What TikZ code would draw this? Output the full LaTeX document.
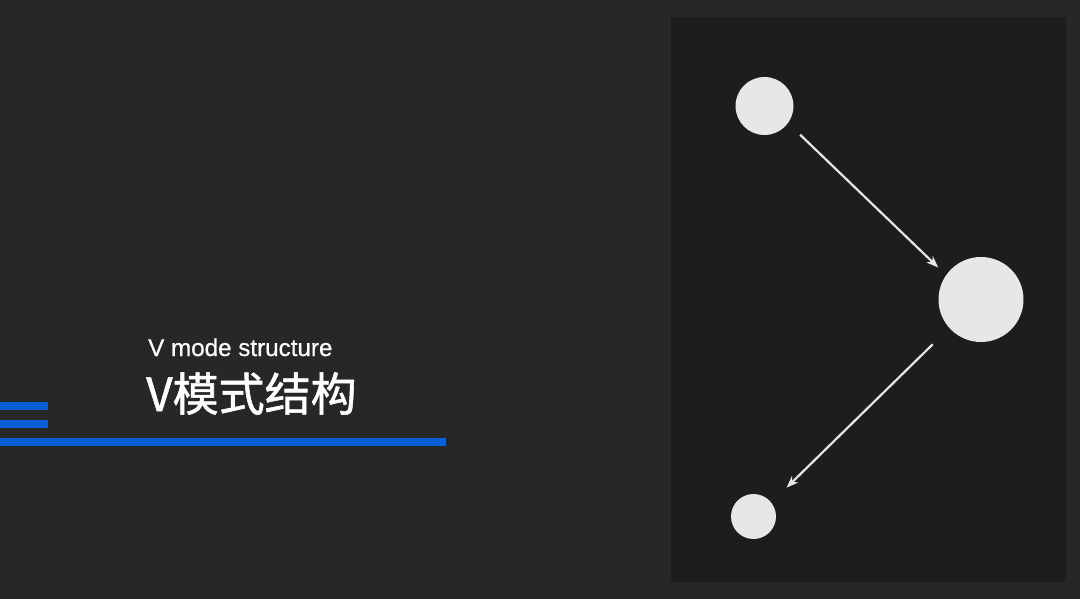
\documentclass[tikz,border=0pt]{standalone}
\usepackage{fontspec}
\setmainfont{Liberation Sans}
\newfontfamily\entitle[FakeBold=0.6]{Liberation Sans}
\newfontfamily\cjk[FakeBold=1.2]{Noto Sans CJK SC}
\usetikzlibrary{arrows.meta}
\definecolor{bgdark}{HTML}{272727}
\definecolor{panel}{HTML}{1D1D1D}
\definecolor{dot}{HTML}{E6E7E6}
\definecolor{barblue}{HTML}{0A5FD7}
\begin{document}
\begin{tikzpicture}[x=1pt,y=-1pt,
  dotnode/.style = {circle, fill=dot, inner sep=0pt},
  link/.style = {draw=dot, line width=2.2pt, -{Stealth[length=12pt,width=9pt]}},
  bar/.style = {fill=barblue}]

\fill[bgdark] (0,0) rectangle (1080,599);
\useasboundingbox (0,0) rectangle (1080,599);
\fill[panel] (671,17) rectangle (1066,582);

% title
\node[anchor=base west, inner sep=0pt, text=white, font=\entitle\fontsize{24.2}{29}\selectfont] (en) at (148,356) {V mode structure};
\node[anchor=base west, inner sep=0pt, text=white, font=\cjk\fontsize{46}{54}\selectfont] (zh) at (146,411) {V模式结构};
\fill[bar] (0,402.3) rectangle (47.7,410);
\fill[bar] (0,420) rectangle (47.7,427.7);
\fill[bar] (0,437.7) rectangle (446,445.7);

% V shape
\node[dotnode, minimum size=58pt] (1) at (764.5,106) {};
\node[dotnode, minimum size=85pt] (2) at (981,299.5) {};
\node[dotnode, minimum size=45pt] (3) at (753.5,516.5) {};
\draw[link, shorten <=16.6pt, shorten >=10.8pt] (1.-36.8) -- (2.145.1);
\draw[link, shorten <=23.2pt, shorten >=21.2pt] (2.222.7) -- (3.38.5);

\end{tikzpicture}
\end{document}
